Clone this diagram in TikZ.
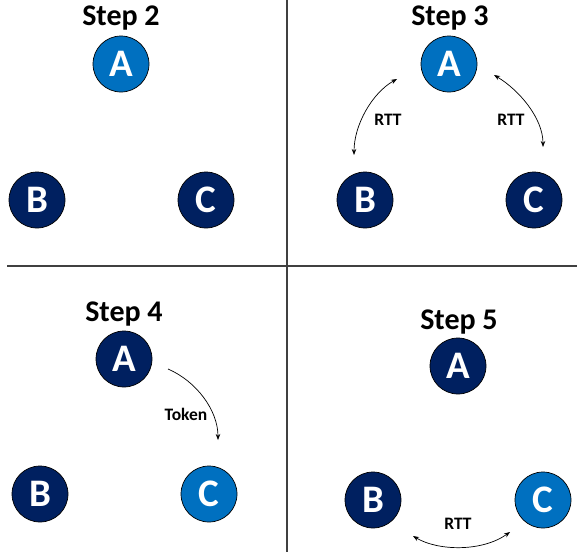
\documentclass[tikz,border=0pt]{standalone}
\usepackage{fontspec}
\setmainfont{Carlito}
\usetikzlibrary{arrows.meta}
\definecolor{navy}{HTML}{002060}
\definecolor{lightblue}{HTML}{0070C0}
\begin{document}
\begin{tikzpicture}[x=1pt,y=-1pt,
  nodebox/.style={circle,draw=black,line width=0.7pt,minimum size=56pt,inner sep=0pt,
    text=white,font=\fontsize{39}{39}\selectfont\bfseries},
  darknode/.style={nodebox,fill=navy},
  lightnode/.style={nodebox,fill=lightblue},
  title/.style={anchor=base,inner sep=0pt,font=\fontsize{30}{30}\selectfont\bfseries},
  lbl/.style={anchor=base,inner sep=0pt,font=\fontsize{17.5}{17.5}\selectfont\bfseries},
  conn/.style={line width=0.7pt,-{Stealth[length=6pt,width=4.5pt]}},
  bconn/.style={line width=0.7pt,{Stealth[length=6pt,width=4.5pt]}-{Stealth[length=6pt,width=4.5pt]}},
  divider/.style={line width=1.1pt,draw=black!75}]
\useasboundingbox (0,0) rectangle (577,554);
% dividers
\coordinate (vtop) at (287,0);
\coordinate (vbot) at (287,552);
\coordinate (hl) at (7,266);
\coordinate (hr) at (577,266);
\draw[divider] (vtop) -- (vbot);
\draw[divider] (hl) -- (hr);
% Step 2
\node[title] (t2) at (121,25) {Step 2};
\node[lightnode] (A2) at (121,64) {A};
\node[darknode] (B2) at (37,200) {B};
\node[darknode] (C2) at (206,200) {C};
% Step 3
\node[title] (t3) at (450,25) {Step 3};
\node[lightnode] (A3) at (449,64) {A};
\node[darknode] (B3) at (365,200) {B};
\node[darknode] (C3) at (534,200) {C};
\coordinate (l3s) at (397,79);
\coordinate (l3e) at (354,155);
\coordinate (r3s) at (494,75);
\coordinate (r3e) at (543,147);
\draw[bconn] (l3s) .. controls (372,93) and (354,125) .. (l3e);
\draw[bconn] (r3s) .. controls (519,90) and (543,118) .. (r3e);
\node[lbl] (rtt3l) at (388,125) {RTT};
\node[lbl] (rtt3r) at (511,125.5) {RTT};
% Step 4
\node[title] (t4) at (124,321) {Step 4};
\node[darknode] (A4) at (124,359) {A};
\node[darknode] (B4) at (40,494) {B};
\node[lightnode] (C4) at (209,494) {C};
\coordinate (ts) at (168,369);
\coordinate (te) at (218,440);
\draw[conn] (ts) .. controls (196,381) and (218,410) .. (te);
\node[lbl] (tok) at (186,420) {Token};
% Step 5
\node[title] (t5) at (459,329) {Step 5};
\node[darknode] (A5) at (458,366) {A};
\node[darknode] (B5) at (373,500) {B};
\node[lightnode] (C5) at (543,500) {C};
\coordinate (r5s) at (413,536);
\coordinate (r5e) at (510,532);
\draw[bconn] (r5s) .. controls (438,551) and (482,552) .. (r5e);
\node[lbl] (rtt5) at (458,529) {RTT};
\end{tikzpicture}
\end{document}
